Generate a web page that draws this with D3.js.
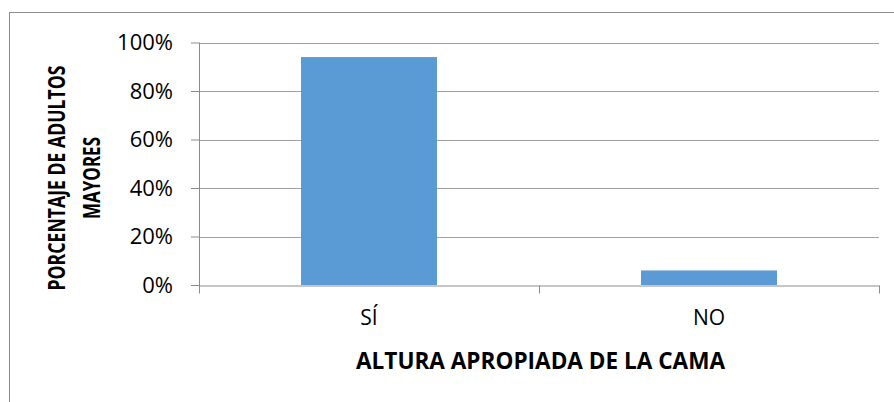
<!DOCTYPE html>
<html>
<head>
<meta charset="utf-8">
<script src="https://cdn.jsdelivr.net/npm/d3@7"></script>
<style>
  body { margin: 0; background: #fff; }
  svg text { font-family: "Open Sans", sans-serif; fill: #000; }
</style>
</head>
<body>
<div class="bar-chart"></div>
<script>
var categories = ["SÍ", "NO"];
var values = [0.94, 0.06];
var yTicks = [0, 0.2, 0.4, 0.6, 0.8, 1];
var yTitle = ["PORCENTAJE DE ADULTOS", "MAYORES"];
var xTitle = "ALTURA APROPIADA DE LA CAMA";

var width = 894,
  height = 402,
  plot = { left: 199, right: 879, top: 42.5, bottom: 285 };

var svg = d3.select(".bar-chart")
  .append("svg")
  .attr("width", width)
  .attr("height", height);

// outer chart border (runs off the right and bottom edge)
svg.append("rect")
  .attr("x", 9.5)
  .attr("y", 12.5)
  .attr("width", 900)
  .attr("height", 400)
  .attr("fill", "none")
  .attr("stroke", "#8c8c8c");

var x = d3.scaleBand()
  .domain(categories)
  .range([plot.left, plot.right]);

var y = d3.scaleLinear()
  .domain([0, 1])
  .range([plot.bottom, plot.top]);

var fmt = d3.format(".0%");

// gridlines
svg.append("g")
  .selectAll("line")
  .data(yTicks.filter(function(d) { return d > 0; }))
  .enter().append("line")
    .attr("x1", plot.left)
    .attr("x2", plot.right)
    .attr("y1", function(d) { return Math.round(y(d)) + 0.5; })
    .attr("y2", function(d) { return Math.round(y(d)) + 0.5; })
    .attr("stroke", "#a0a0a0")
    .attr("stroke-width", 1.2);

// bars
var bw = x.bandwidth() * 0.4;
svg.append("g")
  .selectAll("rect")
  .data(values)
  .enter().append("rect")
    .attr("x", function(d, i) { return x(categories[i]) + (x.bandwidth() - bw) / 2; })
    .attr("y", function(d) { return y(d); })
    .attr("width", bw)
    .attr("height", function(d) { return y(0) - y(d); })
    .attr("fill", "#5b9bd5");

// y axis
var yAxis = svg.append("g")
  .attr("transform", "translate(" + plot.left + ",0)")
  .call(d3.axisLeft(y).tickValues(yTicks).tickFormat(fmt).tickSize(8).tickPadding(18));
yAxis.select(".domain").attr("stroke", "#8c8c8c").attr("d", "M0.5," + plot.top + "V" + (plot.bottom + 8));
yAxis.selectAll(".tick line").attr("stroke", "#8c8c8c");
yAxis.selectAll(".tick text")
  .style("font-size", "22px")
  .attr("fill", "#000");

// x axis
var xAxis = svg.append("g")
  .attr("transform", "translate(0," + (plot.bottom + 0.5) + ")")
  .call(d3.axisBottom(x).tickSize(0).tickPadding(25));
xAxis.select(".domain").attr("stroke", "#8c8c8c");
xAxis.selectAll(".tick text")
  .style("font-size", "21px")
  .attr("fill", "#000");

// x axis tick marks sit between categories
var bounds = categories.map(function(c) { return x(c); }).concat([plot.right]);
xAxis.selectAll(".sep")
  .data(bounds)
  .enter().append("line")
    .attr("class", "sep")
    .attr("x1", function(d) { return Math.round(d) + 0.5; })
    .attr("x2", function(d) { return Math.round(d) + 0.5; })
    .attr("y1", 0)
    .attr("y2", 8)
    .attr("stroke", "#8c8c8c");

// axis titles
svg.append("text")
  .attr("x", 540.5)
  .attr("y", 369)
  .attr("text-anchor", "middle")
  .attr("textLength", 369)
  .attr("lengthAdjust", "spacingAndGlyphs")
  .style("font-size", "22.5px")
  .style("font-weight", "bold")
  .text(xTitle);

var yLens = [225, 82];
svg.append("g")
  .selectAll("text")
  .data(yTitle)
  .enter().append("text")
    .attr("transform", function(d, i) { return "translate(" + (65 + i * 35) + ",178) rotate(-90)"; })
    .attr("text-anchor", "middle")
    .attr("textLength", function(d, i) { return yLens[i]; })
    .attr("lengthAdjust", "spacingAndGlyphs")
    .style("font-size", "24px")
    .style("font-weight", "bold")
    .text(function(d) { return d; });
</script>
</body>
</html>
